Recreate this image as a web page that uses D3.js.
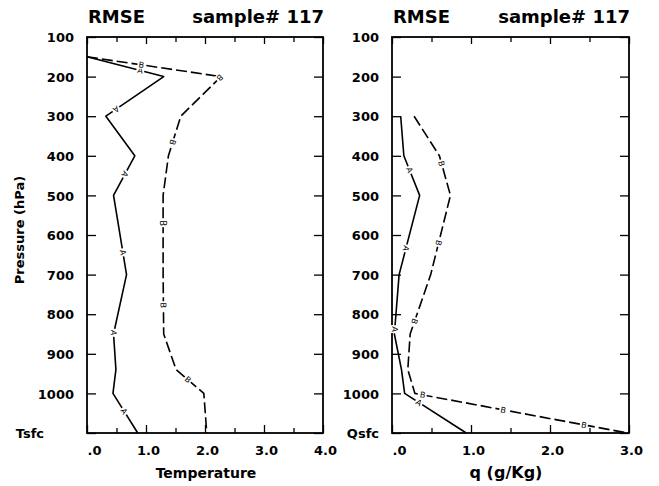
<!DOCTYPE html>
<html>
<head>
<meta charset="utf-8">
<script src="https://cdn.jsdelivr.net/npm/d3@7"></script>
<style>
  body { margin: 0; background: #fff; }
  svg { display: block; font-family: "DejaVu Sans", sans-serif; font-weight: bold; }
</style>
</head>
<body>
<div id="container"></div>
<script>
/* CONSTANTS AND GLOBALS */
const width = 659;
const height = 486;

/* DATA */
// pressure levels (hPa); 1100 stands for the surface row (Tsfc / Qsfc)
const pressureTicks = [100, 200, 300, 400, 500, 600, 700, 800, 900, 1000, 1100];
const tempTickLabels = ["100", "200", "300", "400", "500", "600", "700", "800", "900", "1000", "Tsfc"];
const qTickLabels = ["100", "200", "300", "400", "500", "600", "700", "800", "900", "1000", "Qsfc"];

const tempLevels = [150, 200, 300, 400, 500, 700, 850, 940, 1000, 1100];
const tempSolid = [0.0, 1.30, 0.32, 0.81, 0.45, 0.67, 0.45, 0.49, 0.44, 0.86];
const tempDashed = [0.0, 2.27, 1.59, 1.38, 1.29, 1.29, 1.30, 1.51, 1.98, 2.03];

const qLevels = [300, 400, 500, 700, 850, 940, 1000, 1100];
const qSolid = [0.11, 0.15, 0.35, 0.09, 0.03, 0.12, 0.16, 0.94];
const qDashed = [0.28, 0.60, 0.74, 0.49, 0.23, 0.20, 0.29, 2.98];

const tempXTicks = [0, 1, 2, 3, 4];
const tempXLabels = [".0", "1.0", "2.0", "3.0", "4.0"];
const qXTicks = [0, 1, 2, 3];
const qXLabels = [".0", "1.0", "2.0", "3.0"];

const svg = d3.select("#container").append("svg")
  .attr("width", width)
  .attr("height", height);

const y = d3.scaleLinear().domain([100, 1100]).range([37, 433]);

function panel(opts) {
  const x = d3.scaleLinear().domain([0, opts.xmax]).range(opts.range);
  const g = svg.append("g");
  const [x0, x1] = opts.range;

  // minor / major ticks (inward) via d3 axes
  const halfTicks = d3.range(0.5, opts.xmax, 1);
  [["bottom", 433, -5, halfTicks], ["bottom", 433, -8, opts.xticks],
   ["top", 37, -5, halfTicks], ["top", 37, -7, opts.xticks]].forEach(([side, yy, len, vals]) => {
    const ax = (side === "bottom" ? d3.axisBottom(x) : d3.axisTop(x))
      .tickValues(vals).tickSize(len).tickFormat("");
    g.append("g").attr("transform", `translate(0,${yy})`).call(ax)
      .call(s => s.select(".domain").remove());
  });

  // x labels
  const xl = g.append("g").attr("transform", "translate(0,433)")
    .call(d3.axisBottom(x).tickValues(opts.xticks).tickSize(0).tickPadding(13)
      .tickFormat((d, i) => opts.xlabels[i]));
  xl.select(".domain").remove();
  xl.selectAll("text").attr("font-size", 13).attr("font-family", "DejaVu Sans")
    .attr("font-weight", "bold").attr("fill", "#000").attr("dx", 2);
  xl.selectAll("text").filter((d, i) => i === 0).attr("text-anchor", "start").attr("dx", 0);

  // y axis ticks left (with labels) and right
  const yl = g.append("g").attr("transform", `translate(${x0},0)`)
    .call(d3.axisLeft(y).tickValues(pressureTicks).tickSize(-9).tickPadding(13)
      .tickFormat((d, i) => opts.ylabels[i]));
  yl.select(".domain").remove();
  yl.selectAll("text").attr("font-size", 13).attr("font-family", "DejaVu Sans")
    .attr("font-weight", "bold").attr("fill", "#000").attr("dy", "0.36em");
  yl.selectAll("text").filter((d, i) => i === pressureTicks.length - 1).attr("dx", opts.sfcShift);
  g.append("g").attr("transform", `translate(${x1},0)`)
    .call(d3.axisRight(y).tickValues(pressureTicks).tickSize(-9).tickFormat(""))
    .call(s => s.select(".domain").remove());
  g.selectAll(".tick line").attr("stroke", "#000").attr("stroke-width", 1.3);

  // frame
  g.append("rect").attr("x", x0).attr("y", 37).attr("width", x1 - x0).attr("height", 396)
    .attr("fill", "none").attr("stroke", "#000").attr("stroke-width", 1.8);

  // titles
  g.append("text").attr("x", x0 + 1).attr("y", 23).attr("font-size", 18).text("RMSE");
  g.append("text").attr("x", x1 + 1).attr("y", 23).attr("font-size", 18)
    .attr("text-anchor", "end").text("sample# 117");
  g.append("text").attr("x", opts.titleX).attr("y", 478).attr("font-size", opts.titleSize)
    .attr("text-anchor", "middle").text(opts.xtitle);

  // lines
  const line = d3.line().x(d => x(d[1])).y(d => y(d[0]));
  [[opts.solid, null, "A"], [opts.dashed, "11,4", "B"]].forEach(([vals, dash, ch]) => {
    const pts = opts.levels.map((p, i) => [p, vals[i]]);
    const path = g.append("path").datum(pts).attr("d", line)
      .attr("fill", "none").attr("stroke", "#000").attr("stroke-width", 1.6)
      .attr("stroke-linejoin", "round")
      .attr("stroke-dasharray", dash);
    // curve labels placed along the line
    const node = path.node();
    const total = node.getTotalLength();
    for (let s = 55; s < total - 15; s += 82) {
      const p = node.getPointAtLength(s);
      const q = node.getPointAtLength(Math.min(total, s + 2));
      const ang = Math.atan2(q.y - p.y, q.x - p.x) * 180 / Math.PI;
      const lg = g.append("g").attr("transform", `translate(${p.x},${p.y}) rotate(${ang})`);
      lg.append("rect").attr("x", -4).attr("y", -4).attr("width", 8).attr("height", 8).attr("fill", "#fff");
      lg.append("text").attr("font-size", 8).attr("font-weight", "normal")
        .attr("text-anchor", "middle").attr("dy", "0.35em").text(ch);
    }
  });
}

panel({
  range: [87, 323], xmax: 4, xticks: tempXTicks, xlabels: tempXLabels,
  ylabels: tempTickLabels, sfcShift: -30, levels: tempLevels,
  solid: tempSolid, dashed: tempDashed, xtitle: "Temperature", titleX: 206, titleSize: 14
});
panel({
  range: [392, 629], xmax: 3, xticks: qXTicks, xlabels: qXLabels,
  ylabels: qTickLabels, sfcShift: 0, levels: qLevels,
  solid: qSolid, dashed: qDashed, xtitle: "q (g/Kg)", titleX: 506, titleSize: 16
});

svg.append("text")
  .attr("transform", "translate(24,230) rotate(-90)")
  .attr("text-anchor", "middle").attr("font-size", 13)
  .text("Pressure (hPa)");
</script>
</body>
</html>
